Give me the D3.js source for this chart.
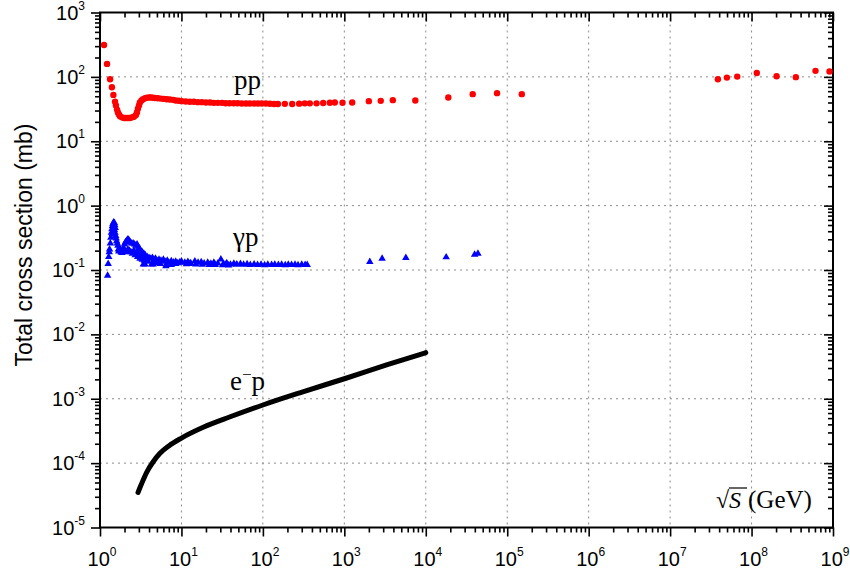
<!DOCTYPE html>
<html><head><meta charset="utf-8">
<script src="https://cdn.jsdelivr.net/npm/d3@7/dist/d3.min.js"></script>
<style>body{margin:0;background:#fff}svg{display:block}</style>
</head><body>
<svg id="c" width="850" height="576"></svg>
<script>
// ---- data ----
const xTickExps = [0,1,2,3,4,5,6,7,8,9];
const yTickExps = [-5,-4,-3,-2,-1,0,1,2,3];

const ppX = [1.12,1.22,1.33,1.40,1.46,1.53,1.57,1.62,1.66,1.71,1.76,1.86,1.97,2.08,2.20,2.33,2.47,2.61,2.76,2.84,2.92,3.01,3.09,3.23,3.37,3.57,3.77,4.0,4.2,4.46,4.73,5.15,5.6,6.1,6.6,7.2,7.9,8.5,9.3,10.1,
  11.3,12.7,14.2,15.9,17.8,20,22.4,25,28,31.5,35,39,44,49,55,62,69,78,87,97,109,122,137,153,
  186,229,279,327,377,456,550,664,764,950,1248,2000,2800,3940,7440,18900,37700,75000,151000,
  3.86e7,4.98e7,6.67e7,1.16e8,2.03e8,3.5e8,6.1e8,9.06e8];
const ppY = [313,159,92,69,52.5,41,36,31,28,26,24.5,23.5,23,23,23,23,23.5,24,25.5,28,32,36,40,43,45,46.5,47.5,48,48,47.5,47,46.5,46,45.5,45,44.5,44,43,42.5,42,
  41.5,41,41,40.5,40.5,40,40,39.5,39.5,39.5,39,39,39,39,38.5,38.5,38.5,38.5,38.5,38.5,38.5,38.3,38,38,
  38.1,37.9,38.4,38.8,38.8,38.8,39.2,39.6,40.0,39.6,40.0,42,42.4,43.5,42.9,47.7,53.9,55.9,53.9,
  92,97.5,101,115,102.5,99,124,121];

const gpX = [1.24,1.26,1.28,1.30,1.31,1.34,1.36,1.38,1.40,1.42,1.44,1.47,1.50,1.52,1.54,1.41,1.44,1.47,1.50,1.53,1.56,1.58,1.60,1.63,1.66,1.68,1.70,1.74,1.78,1.82,1.86,1.90,1.95,
  2.0,2.05,2.1,2.15,2.2,2.25,2.3,2.35,2.45,2.55,2.65,2.75,2.85,2.95,3.05,3.15,3.3,3.45,3.6,
  2.0,2.1,2.2,2.3,2.4,2.5,2.6,2.7,2.8,2.9,3.0,3.1,3.2,3.3,3.4,3.5,3.57,
  3.8,4.0,4.2,4.4,4.6,4.8,4.3,5.0,5.3,5.6,6.0,6.3,6.7,7.0,7.5,8.0,8.5,9.0,9.5,5.5,6.5,7.5,8.5,3.9,4.6,5.2,3.4,4.5,6.45,
  10,11,12,13,14.6,16,17.5,19,21,23,25,28,30.5,33,36,40,44,48,53,58,64,70,78,86,95,105,115,128,140,155,170,188,205,225,248,270,300,330,350,
  11.5,15,18,22,26,32,38,12.5,35,47.5,
  2055,2910,5690,17800,39800,43700];
const gpY = [0.082,0.125,0.16,0.19,0.21,0.26,0.32,0.38,0.43,0.48,0.52,0.55,0.54,0.50,0.45,0.36,0.40,0.44,0.42,0.38,0.34,0.31,0.28,0.26,0.24,0.21,0.195,0.20,0.21,0.19,0.185,0.20,0.22,
  0.25,0.27,0.28,0.29,0.30,0.295,0.28,0.27,0.26,0.26,0.25,0.24,0.25,0.23,0.215,0.20,0.19,0.18,0.17,
  0.20,0.19,0.21,0.20,0.19,0.18,0.20,0.17,0.19,0.16,0.17,0.15,0.16,0.145,0.15,0.14,0.122,
  0.16,0.155,0.15,0.155,0.145,0.15,0.122,0.14,0.145,0.14,0.145,0.135,0.14,0.13,0.138,0.132,0.135,0.128,0.132,0.125,0.122,0.12,0.125,0.135,0.13,0.128,0.122,0.122,0.115,
  0.137,0.13,0.134,0.128,0.137,0.13,0.133,0.127,0.13,0.126,0.13,0.127,0.146,0.125,0.128,0.122,0.126,0.122,0.125,0.121,0.124,0.12,0.123,0.12,0.122,0.119,0.122,0.12,0.122,0.12,0.121,0.119,0.121,0.12,0.121,0.119,0.121,0.12,0.12,
  0.124,0.122,0.121,0.12,0.12,0.119,0.118,0.125,0.122,0.122,
  0.134,0.151,0.155,0.158,0.174,0.18];

const epX = [2.93,3.2,3.74,4.5,5.45,7,10,18.5,39,100,309,1070,3300,10000];
const epY = [3.5e-5,4.6e-5,7.2e-5,1.05e-4,1.42e-4,1.85e-4,2.45e-4,3.6e-4,5.2e-4,8.0e-4,1.28e-3,2.1e-3,3.35e-3,5.2e-3];

// ---- layout ----
const L = 100, R = 833, T = 12.5, B = 527.5;
const SANS = "'Liberation Sans', Arial, sans-serif";
const SERIF = "'Liberation Serif', 'Times New Roman', serif";
const svg = d3.select("#c");
svg.append("rect").attr("width",850).attr("height",576).attr("fill","#fff");
const x = d3.scaleLog().domain([1,1e9]).range([L,R]);
const y = d3.scaleLog().domain([1e-5,1e3]).range([B,T]);

const xMaj = xTickExps.map(e=>Math.pow(10,e));
const yMaj = yTickExps.map(e=>Math.pow(10,e));
const minorOf = maj => { const m=[]; for (let i=0;i<maj.length-1;i++) for (let k=2;k<=9;k++) m.push(maj[i]*k); return m; };
const xMin = minorOf(xMaj), yMin = minorOf(yMaj);

// grid
const grid = svg.append("g").attr("stroke","#8c8c8c").attr("stroke-width",1).attr("stroke-dasharray","2,4");
grid.selectAll("line.v").data(xMaj.slice(1,-1)).join("line").attr("class","v")
  .attr("x1",d=>x(d)).attr("x2",d=>x(d)).attr("y1",T).attr("y2",B);
grid.selectAll("line.h").data(yMaj.slice(1,-1)).join("line").attr("class","h")
  .attr("y1",d=>y(d)).attr("y2",d=>y(d)).attr("x1",L).attr("x2",R);

// axes
function ax(gen, tx, ty){
  const g = svg.append("g").attr("transform",`translate(${tx},${ty})`).call(gen);
  g.select(".domain").remove();
  g.selectAll("line").attr("stroke","#000").attr("stroke-width",1.6);
  return g;
}
ax(d3.axisBottom(x).tickValues(xMaj).tickSize(9).tickFormat(""),0,B);
ax(d3.axisBottom(x).tickValues(xMin).tickSize(5).tickFormat(""),0,B);
ax(d3.axisBottom(x).tickValues(xMaj).tickSize(9).tickFormat(""),0,T);
ax(d3.axisBottom(x).tickValues(xMin).tickSize(5).tickFormat(""),0,T);
ax(d3.axisLeft(y).tickValues(yMaj).tickSize(9).tickFormat(""),L,0);
ax(d3.axisLeft(y).tickValues(yMin).tickSize(5).tickFormat(""),L,0);
ax(d3.axisLeft(y).tickValues(yMaj).tickSize(9).tickFormat(""),R,0);
ax(d3.axisLeft(y).tickValues(yMin).tickSize(5).tickFormat(""),R,0);

svg.append("rect").attr("x",L).attr("y",T).attr("width",R-L).attr("height",B-T)
  .attr("fill","none").attr("stroke","#000").attr("stroke-width",2);

// tick labels
const lab = svg.append("g").attr("font-family",SANS).attr("fill","#000");
xTickExps.forEach(e=>{
  const t = lab.append("text").attr("x",x(Math.pow(10,e))+2).attr("y",566).attr("text-anchor","middle").attr("font-size",20);
  t.append("tspan").text("10");
  t.append("tspan").attr("dy",-10).attr("font-size",12).text(String(e));
});
yTickExps.forEach(e=>{
  const t = lab.append("text").attr("x",85).attr("y",y(Math.pow(10,e))+7).attr("text-anchor","end").attr("font-size",20);
  t.append("tspan").text("10");
  t.append("tspan").attr("dy",-10).attr("font-size",12).text(String(e));
});

svg.append("text").attr("transform",`translate(32,245) rotate(-90)`).attr("text-anchor","middle")
  .attr("font-family",SANS).attr("font-size",23).text("Total cross section (mb)");

// e-p curve
const epData = epX.map((v,i)=>[v,epY[i]]);
svg.append("path").datum(epData)
  .attr("d", d3.line().x(d=>x(d[0])).y(d=>y(d[1])).curve(d3.curveMonotoneX))
  .attr("fill","none").attr("stroke","#000").attr("stroke-width",5).attr("stroke-linecap","round");

// pp points
svg.append("g").selectAll("circle").data(ppX.map((v,i)=>[v,ppY[i]])).join("circle")
  .attr("cx",d=>x(d[0])).attr("cy",d=>y(d[1])).attr("r",3.2).attr("fill","#ff0000");

// gamma p points
const tri = d3.symbol().type(d3.symbolTriangle).size(24);
svg.append("g").selectAll("path").data(gpX.map((v,i)=>[v,gpY[i]])).join("path")
  .attr("transform",d=>`translate(${x(d[0])},${y(d[1])})`).attr("d",tri).attr("fill","#0000ff");

// series labels
const ser = svg.append("g").attr("font-family",SERIF).attr("font-size",27).attr("fill","#000");
ser.append("text").attr("x",234).attr("y",89).text("pp");
ser.append("text").attr("x",233).attr("y",246).text("γp");
const ep = ser.append("text").attr("x",230).attr("y",390);
ep.append("tspan").text("e");
ep.append("tspan").attr("dy",-10).attr("font-size",17).text("−");
ep.append("tspan").attr("dy",10).text("p");

// x axis title
const xt = svg.append("g").attr("font-family",SERIF).attr("fill","#000");
xt.append("text").attr("x",716).attr("y",508).attr("font-size",24).text("√");
xt.append("text").attr("x",729).attr("y",508).attr("font-size",24).attr("font-style","italic").text("S");
xt.append("line").attr("x1",729).attr("x2",747).attr("y1",488).attr("y2",488).attr("stroke","#000").attr("stroke-width",1.2);
xt.append("text").attr("x",748).attr("y",508).attr("font-size",25).text("(GeV)");
</script>
</body></html>
